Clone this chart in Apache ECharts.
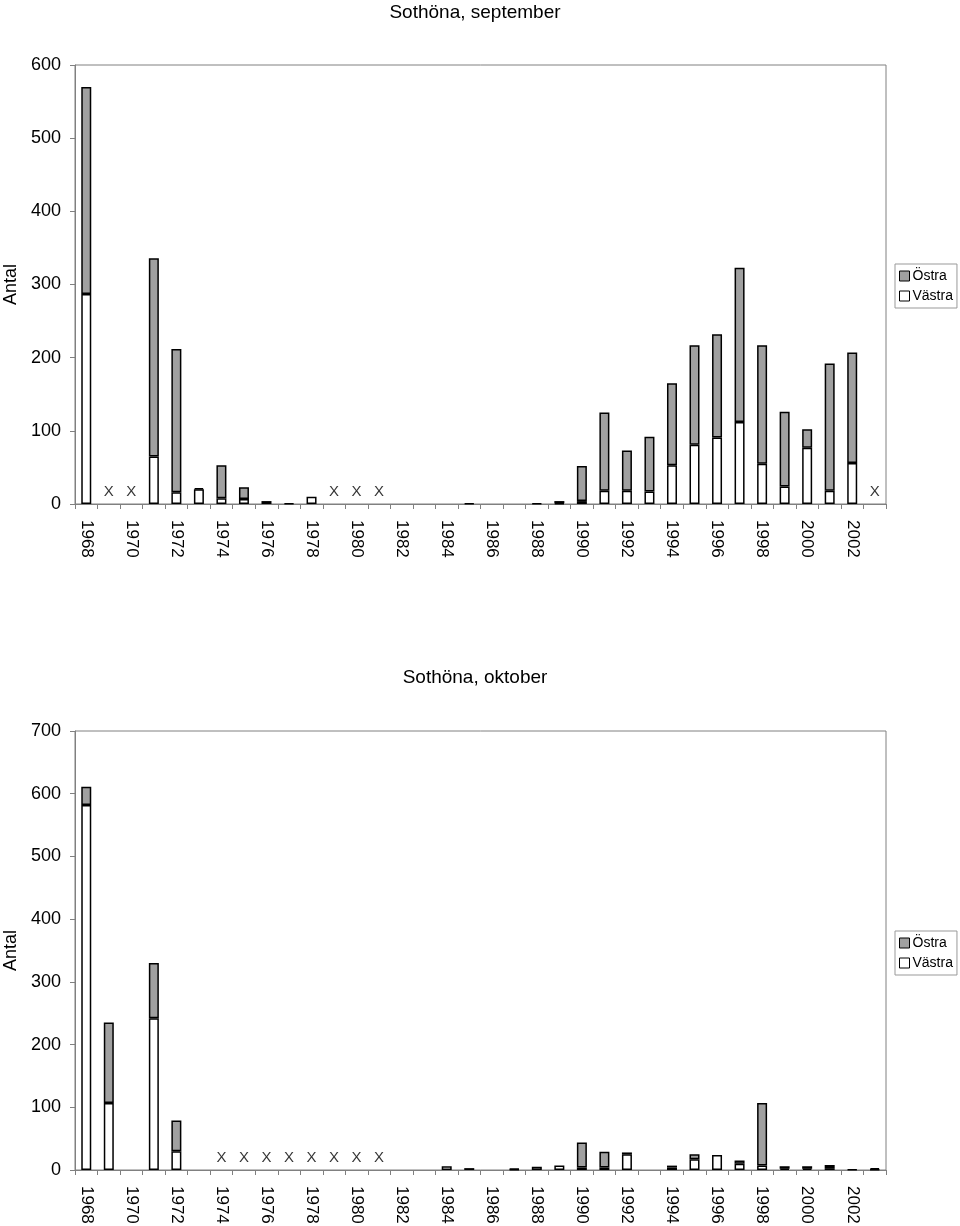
<!DOCTYPE html>
<html>
<head>
<meta charset="utf-8">
<script src="https://cdn.jsdelivr.net/npm/echarts@6/dist/echarts.min.js"></script>
<style>
  html, body { margin: 0; padding: 0; background: #fff; }
  #chart { width: 960px; height: 1226px; }
</style>
</head>
<body>
<div id="chart"></div>
<script>
// år 1968-2003
var years = [];
for (var y = 1968; y <= 2003; y++) years.push(String(y));

// september
var sepVastra = [287, '-', '-', 65, 16, 20, 8, 7, 4, 1, 10, '-', '-', '-', '-', '-', '-', 1, '-', '-', 1, 1, 4, 18, 18, 17, 53, 81, 91, 112, 55, 24, 77, 18, 56, '-'];
var sepOstra  = [283, '-', '-', 271, 196, 2, 45, 16, '-', '-', '-', '-', '-', '-', '-', '-', '-', '-', '-', '-', '-', 3, 48, 107, 55, 75, 112, 136, 141, 211, 162, 102, 25, 174, 151, '-'];
var sepSaknas = ['1969', '1970', '1979', '1980', '1981', '2003'];

// oktober
var oktVastra = [582, 107, '-', 242, 30, '-', '-', '-', '-', '-', '-', '-', '-', '-', '-', '-', 6, 3, '-', 1, 5, 7, 4, 4, 25, '-', 4, 17, 24, 10, 7, 2, 2, 3, 1, 1];
var oktOstra  = [29, 128, '-', 88, 49, '-', '-', '-', '-', '-', '-', '-', '-', '-', '-', '-', '-', '-', '-', 1, '-', '-', 40, 25, 3, '-', 3, 8, '-', 5, 100, 4, 4, 5, '-', 2];
var oktSaknas = ['1974', '1975', '1976', '1977', '1978', '1979', '1980', '1981'];

var font = 'Liberation Sans, Arial, sans-serif';
var gray = '#a0a0a0';

function xAxis(i) {
  return {
    type: 'category', gridIndex: i, data: years,
    axisLine: { lineStyle: { color: '#808080', width: 1 } },
    axisTick: { show: true, interval: 0, length: 5, lineStyle: { color: '#808080' } },
    axisLabel: { interval: 1, rotate: -90, margin: 16, fontSize: 17, color: '#000', fontFamily: font }
  };
}
function yAxis(i, max) {
  return {
    type: 'value', gridIndex: i, min: 0, max: max, interval: 100,
    name: 'Antal', nameLocation: 'middle', nameGap: 53, nameRotate: 90,
    nameTextStyle: { fontSize: 18, color: '#000', fontFamily: font },
    axisLine: { show: true, lineStyle: { color: '#808080' } },
    axisTick: { show: true, length: 5, lineStyle: { color: '#808080' } },
    splitLine: { show: false },
    axisLabel: { margin: 14, fontSize: 18, color: '#000', fontFamily: font }
  };
}
function bars(i, vastra, ostra) {
  return [
    {
      name: 'Västra', type: 'bar', stack: 's' + i, xAxisIndex: i, yAxisIndex: i,
      barWidth: 10, data: vastra,
      itemStyle: { color: '#fff', borderColor: '#000', borderWidth: 1.5 }
    },
    {
      name: 'Östra', type: 'bar', stack: 's' + i, xAxisIndex: i, yAxisIndex: i,
      barWidth: 10, data: ostra,
      itemStyle: { color: gray, borderColor: '#000', borderWidth: 1.5 }
    },
    {
      name: 'saknas', type: 'scatter', xAxisIndex: i, yAxisIndex: i,
      symbolSize: 0, silent: true,
      data: (i === 0 ? sepSaknas : oktSaknas).map(function (yr) { return [yr, 0]; }),
      label: { show: true, position: 'top', distance: 5, formatter: 'X', fontSize: 15, color: '#000', fontFamily: font }
    }
  ];
}
function legend(top) {
  return {
    orient: 'vertical', left: 895, top: top, data: ['Östra', 'Västra'],
    icon: 'rect', itemWidth: 10, itemHeight: 10, itemGap: 6,
    padding: [5, 4, 5, 4], borderColor: '#999', borderWidth: 1,
    itemStyle: { borderColor: '#000', borderWidth: 1 },
    textStyle: { fontSize: 14, color: '#000', fontFamily: font, padding: [0, 0, 0, -2] }
  };
}

var chart = echarts.init(document.getElementById('chart'));
var option = {
  animation: false,
  backgroundColor: '#fff',
  title: [
    { text: 'Sothöna, september', left: 470, top: -2, textAlign: 'center', textStyle: { fontSize: 19, fontWeight: 'normal', color: '#000', fontFamily: font } },
    { text: 'Sothöna, oktober', left: 470, top: 663, textAlign: 'center', textStyle: { fontSize: 19, fontWeight: 'normal', color: '#000', fontFamily: font } }
  ],
  legend: [legend(264), legend(931)],
  grid: [
    { left: 75, top: 65, width: 811, height: 439, show: true, borderColor: '#808080', borderWidth: 1, outerBoundsMode: 'none', containLabel: false },
    { left: 75, top: 731, width: 811, height: 439, show: true, borderColor: '#808080', borderWidth: 1, outerBoundsMode: 'none', containLabel: false }
  ],
  xAxis: [xAxis(0), xAxis(1)],
  yAxis: [yAxis(0, 600), yAxis(1, 700)],
  series: bars(0, sepVastra, sepOstra).concat(bars(1, oktVastra, oktOstra))
};
chart.setOption(option);
</script>
</body>
</html>
